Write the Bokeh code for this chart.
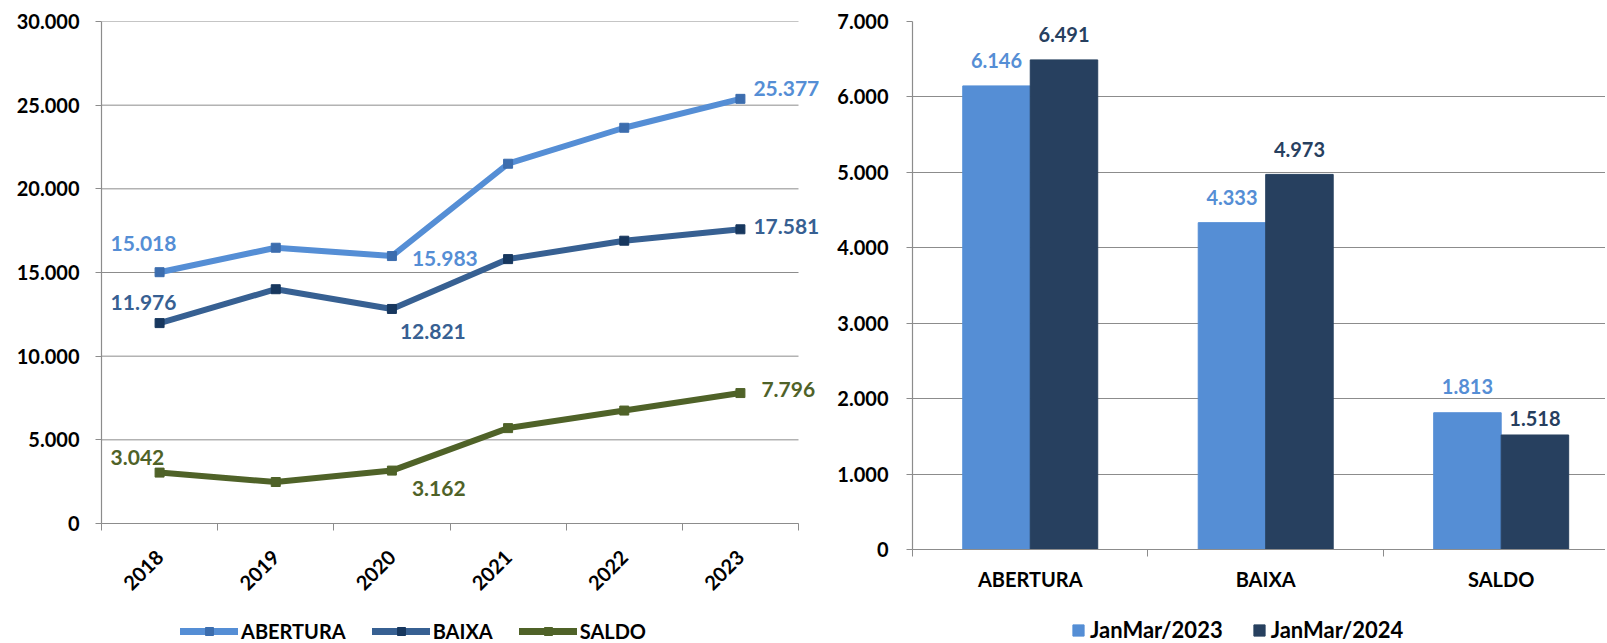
from math import pi
import numpy as np
from bokeh.plotting import figure
from bokeh.models import (ColumnDataSource, FixedTicker, Legend, LegendItem, Range1d)
from bokeh.layouts import row, column
from bokeh.embed import file_html
from bokeh.resources import INLINE
from bokeh.core.properties import value
from bokeh.transform import dodge

# ---------------- data ----------------
years = ["2018", "2019", "2020", "2021", "2022", "2023"]
abertura = [15018, 16480, 15983, 21500, 23650, 25377]
baixa = [11976, 14000, 12821, 15800, 16900, 17581]
saldo = [3042, 2480, 3162, 5700, 6750, 7796]
labeled_years = ["2018", "2020", "2023"]

line_ticks = [0, 5000, 10000, 15000, 20000, 25000, 30000]

bar_cats = ["ABERTURA", "BAIXA", "SALDO"]
jm2023 = [6146, 4333, 1813]
jm2024 = [6491, 4973, 1518]
bar_ticks = [0, 1000, 2000, 3000, 4000, 5000, 6000, 7000]

# ---------------- styles ----------------
FONT = "Lato"
GRID = "#8C8C8C"
C_AB = "#558ED5"
C_AB_M = "#3C6DAE"
C_BX = "#376092"
C_BX_M = "#17375E"
C_SA = "#4F6228"
C_23 = "#558ED5"
C_24 = "#27405F"


def fmt(v):
    return f"{v:,}".replace(",", ".")


def style_common(p):
    p.outline_line_color = None
    p.background_fill_color = "white"
    p.border_fill_color = "white"
    p.frame_align = False
    p.xgrid.grid_line_color = None
    p.ygrid.grid_line_color = GRID
    p.ygrid.grid_line_width = 1
    for ax in (p.xaxis[0], p.yaxis[0]):
        ax.axis_line_color = GRID
        ax.axis_line_width = 1.2
        ax.major_tick_line_color = GRID
        ax.minor_tick_line_color = GRID
        ax.major_tick_in = 0
        ax.minor_tick_in = 0
        ax.major_label_text_font = FONT
        ax.major_label_text_font_style = "bold"
        ax.major_label_text_font_size = "20px"
        ax.major_label_text_color = "black"


def legend_fig(width, height):
    # strip that only hosts a legend; its proxy glyphs lie outside its view
    f = figure(width=width, height=height, x_range=Range1d(-20, -10),
               y_range=Range1d(-20, -10), output_backend="svg",
               toolbar_location=None, x_axis_location=None,
               y_axis_location=None, min_border=0)
    f.min_border_left = f.min_border_right = 0
    f.min_border_top = f.min_border_bottom = 0
    f.grid.visible = False
    f.outline_line_color = None
    f.frame_align = False
    return f


# ---------------- line chart ----------------
# plot frame spans 101..820 px; categories occupy the first 697 px
x_end = len(years) * 719 / 697
p1 = figure(width=820, height=610, x_range=Range1d(0, x_end),
            y_range=Range1d(0, 30000), output_backend="svg",
            toolbar_location=None, min_border_left=101, min_border_right=0,
            min_border_top=21, min_border_bottom=87)
style_common(p1)
p1.ygrid.visible = False
p1.segment(x0=0, x1=len(years), y0=line_ticks, y1=line_ticks,
           line_color=GRID, line_width=1, level="underlay")

xpos = list(np.arange(len(years)) + 0.5)
src = ColumnDataSource(dict(x=xpos, ab=abertura, bx=baixa, sa=saldo))

p1.yaxis.ticker = FixedTicker(ticks=line_ticks)
p1.yaxis.major_label_overrides = {t: fmt(t) for t in line_ticks}
p1.yaxis.major_tick_out = 6
p1.yaxis.minor_tick_out = 0
p1.yaxis.major_label_standoff = 16

p1.xaxis.ticker = FixedTicker(ticks=xpos, minor_ticks=list(range(len(years) + 1)))
p1.xaxis.major_label_overrides = {x: y for x, y in zip(xpos, years)}
p1.xaxis.bounds = (0, len(years))
p1.xaxis.major_tick_out = 0
p1.xaxis.minor_tick_out = 7
p1.xaxis.major_label_orientation = pi / 4
p1.xaxis.major_label_standoff = 23

series = [("ABERTURA", "ab", abertura, C_AB, C_AB_M,
           [(-49, -29), (20, 2), (13, -10)]),
          ("BAIXA", "bx", baixa, C_BX, C_BX_M,
           [(-49, -21), (8, 23), (13, -3)]),
          ("SALDO", "sa", saldo, C_SA, C_SA,
           [(-49, -15), (20, 18), (21, -4)])]

# legend strip under the line chart
l1 = legend_fig(820, 33)
items1 = []
for name, col, vals, lc, mc, offs in series:
    p1.line("x", col, source=src, line_color=lc, line_width=6,
            line_join="round", line_cap="round")
    p1.scatter("x", col, source=src, marker="square", size=9,
               fill_color=mc, line_color=mc)
    idx = [years.index(y) for y in labeled_years]
    lsrc = ColumnDataSource(dict(
        x=[xpos[i] for i in idx], y=[vals[i] for i in idx],
        t=[fmt(vals[i]) for i in idx],
        dx=[o[0] for o in offs], dy=[o[1] for o in offs]))
    p1.text("x", "y", text="t", source=lsrc, x_offset="dx", y_offset="dy",
            text_align="left", text_baseline="middle",
            text_font=value(FONT), text_font_style="bold",
            text_font_size="21px", text_color=lc)
    # legend proxies (same data, out of the strip's view) with series styles
    llr = l1.line(x=xpos, y=vals, line_color=lc, line_width=7, line_cap="round")
    lsr = l1.scatter(x=xpos, y=vals, marker="square", size=9,
                     fill_color=mc, line_color=mc)
    items1.append(LegendItem(label=name, renderers=[llr, lsr]))

leg1 = Legend(items=items1, location=(180, 0), orientation="horizontal",
              glyph_width=58, glyph_height=20, label_standoff=3, spacing=26,
              padding=0, margin=0, border_line_color=None,
              background_fill_alpha=0, label_text_font=FONT,
              label_text_font_style="bold", label_text_font_size="20px",
              label_text_color="black")
l1.add_layout(leg1)

# ---------------- bar chart ----------------
p2 = figure(width=785, height=610, x_range=Range1d(0, 2.943),
            y_range=Range1d(0, 7000), output_backend="svg",
            toolbar_location=None, min_border_left=92, min_border_right=0,
            min_border_top=21, min_border_bottom=61)
style_common(p2)

bx = list(np.arange(len(bar_cats)) + 0.5)
bsrc = ColumnDataSource(dict(x=bx, a=jm2023, b=jm2024,
                             ta=[fmt(v) for v in jm2023],
                             tb=[fmt(v) for v in jm2024],
                             dya=[-25, -25, -26], dyb=[-25, -25, -16]))

p2.yaxis.ticker = FixedTicker(ticks=bar_ticks)
p2.yaxis.major_label_overrides = {t: fmt(t) for t in bar_ticks}
p2.yaxis.major_tick_out = 6
p2.yaxis.minor_tick_out = 0
p2.yaxis.major_label_standoff = 18
p2.ygrid.ticker = FixedTicker(ticks=bar_ticks)

p2.xaxis.ticker = FixedTicker(ticks=bx, minor_ticks=list(range(len(bar_cats) + 1)))
p2.xaxis.major_label_overrides = {x: c for x, c in zip(bx, bar_cats)}
p2.xaxis.major_tick_out = 0
p2.xaxis.minor_tick_out = 7
p2.xaxis.major_label_standoff = 10

bw = 0.2866
p2.vbar(x=dodge("x", -bw / 2, range=p2.x_range), top="a", width=bw,
        source=bsrc, fill_color=C_23, line_color=C_23)
p2.vbar(x=dodge("x", bw / 2, range=p2.x_range), top="b", width=bw,
        source=bsrc, fill_color=C_24, line_color=C_24)
p2.text(x=dodge("x", -bw / 2, range=p2.x_range), y="a", text="ta", source=bsrc,
        y_offset="dya", text_align="center", text_baseline="middle",
        text_font=value(FONT), text_font_style="bold", text_font_size="20px",
        text_color=C_23)
p2.text(x=dodge("x", bw / 2, range=p2.x_range), y="b", text="tb", source=bsrc,
        y_offset="dyb", text_align="center", text_baseline="middle",
        text_font=value(FONT), text_font_style="bold", text_font_size="20px",
        text_color=C_24)

l2 = legend_fig(785, 33)
pa = l2.vbar(x=bx, top=jm2023, bottom=jm2023, width=0.1,
             fill_color=C_23, line_color=C_23)
pb = l2.vbar(x=bx, top=jm2024, bottom=jm2024, width=0.1,
             fill_color=C_24, line_color=C_24)
leg2 = Legend(items=[LegendItem(label="JanMar/2023", renderers=[pa]),
                     LegendItem(label="JanMar/2024", renderers=[pb])],
              location=(251, 0), orientation="horizontal",
              glyph_width=14, glyph_height=14, label_standoff=5, spacing=29,
              padding=0, margin=0, border_line_color=None,
              background_fill_alpha=0, label_text_font=FONT,
              label_text_font_style="bold", label_text_font_size="22px",
              label_text_color="black")
l2.add_layout(leg2)

layout = column(row(p1, p2), row(l1, l2))
open("out.html", "w").write(file_html(layout, INLINE))
